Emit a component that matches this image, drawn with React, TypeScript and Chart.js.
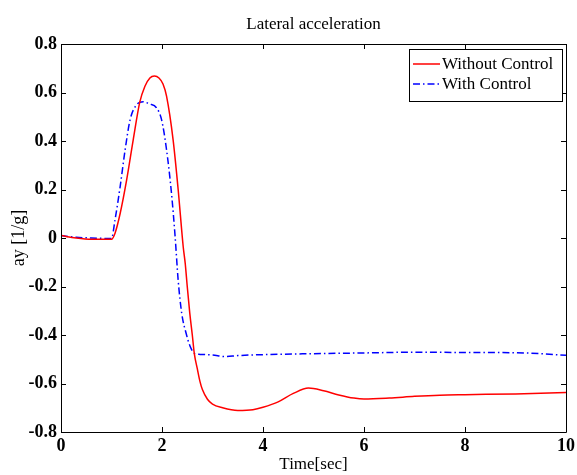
import React, { useEffect, useRef } from 'react';
import { Chart, registerables } from 'chart.js';

Chart.register(...registerables);

// ---- data ----
const xTicks = [0, 2, 4, 6, 8, 10];
const yTicks = [-0.8, -0.6, -0.4, -0.2, 0, 0.2, 0.4, 0.6, 0.8];

const timeWithout = [0, 0.3, 0.6, 1.0, 1.07, 1.17, 1.3, 1.43, 1.56, 1.66, 1.76, 1.85, 1.94, 2.02, 2.09, 2.22, 2.32, 2.42, 2.46, 2.5, 2.55, 2.6, 2.64, 2.7, 2.75, 2.8, 2.9, 3.0, 3.2, 3.5, 3.8, 4.0, 4.3, 4.6, 4.9, 5.2, 5.5, 5.8, 6.0, 6.5, 7.0, 7.5, 8.0, 9.0, 10.0];
const ayWithout = [0.01, 0.0, -0.005, -0.005, 0.02, 0.1, 0.24, 0.405, 0.56, 0.625, 0.66, 0.668, 0.66, 0.635, 0.585, 0.405, 0.2, -0.036, -0.105, -0.2, -0.31, -0.4, -0.477, -0.54, -0.59, -0.625, -0.665, -0.685, -0.7, -0.711, -0.708, -0.698, -0.676, -0.641, -0.619, -0.63, -0.647, -0.66, -0.664, -0.66, -0.653, -0.648, -0.646, -0.643, -0.637];

const timeWith = [0, 0.3, 0.6, 1.0, 1.07, 1.17, 1.27, 1.37, 1.5, 1.63, 1.75, 1.89, 1.99, 2.09, 2.19, 2.26, 2.32, 2.39, 2.48, 2.55, 2.65, 2.75, 3.0, 3.25, 3.5, 4.0, 5.0, 6.0, 7.0, 8.0, 9.0, 9.5, 10.0];
const ayWith = [0.01, 0.003, 0.0, -0.002, 0.075, 0.21, 0.364, 0.489, 0.55, 0.562, 0.553, 0.537, 0.489, 0.364, 0.18, 0.005, -0.174, -0.31, -0.395, -0.443, -0.477, -0.48, -0.482, -0.489, -0.485, -0.481, -0.477, -0.474, -0.471, -0.472, -0.473, -0.477, -0.484];

const seriesLabels = ['Without Control', 'With Control'];
const titleText = 'Lateral acceleration';
const xTitle = 'Time[sec]';
const yTitle = 'ay [1/g]';

const FONT = "'Liberation Serif', 'Times New Roman', serif";

const framePlugin = {
  id: 'matlabFrame',
  afterDatasetsDraw(chart: any) {
    const { ctx, chartArea } = chart;
    const { left, right, top, bottom } = chartArea;
    const xs = chart.scales.x;
    const ys = chart.scales.y;
    ctx.save();
    ctx.strokeStyle = '#000';
    ctx.lineWidth = 1;
    ctx.beginPath();
    ctx.rect(Math.round(left) + 0.5, Math.round(top) + 0.5, Math.round(right - left), Math.round(bottom - top));
    ctx.stroke();
    const tl = 5;
    ctx.beginPath();
    xTicks.forEach((v) => {
      const px = Math.round(xs.getPixelForValue(v)) + 0.5;
      ctx.moveTo(px, bottom);
      ctx.lineTo(px, bottom - tl);
      ctx.moveTo(px, top);
      ctx.lineTo(px, top + tl);
    });
    yTicks.forEach((v) => {
      const py = Math.round(ys.getPixelForValue(v)) + 0.5;
      ctx.moveTo(left, py);
      ctx.lineTo(left + tl, py);
      ctx.moveTo(right, py);
      ctx.lineTo(right - tl, py);
    });
    ctx.stroke();

    // legend
    const bx = 409.5, by = 49.5, bw = 153, bh = 52;
    ctx.fillStyle = '#fff';
    ctx.fillRect(bx, by, bw, bh);
    ctx.strokeStyle = '#000';
    ctx.strokeRect(bx, by, bw, bh);
    const rows = [64, 84];
    chart.data.datasets.forEach((ds: any, i: number) => {
      const y = rows[i];
      ctx.save();
      ctx.strokeStyle = ds.borderColor;
      ctx.lineWidth = 1.5;
      ctx.setLineDash(ds.borderDash || []);
      ctx.beginPath();
      ctx.moveTo(413, y);
      ctx.lineTo(440, y);
      ctx.stroke();
      ctx.restore();
      ctx.fillStyle = '#000';
      ctx.font = `17px ${FONT}`;
      ctx.textBaseline = 'middle';
      ctx.textAlign = 'left';
      ctx.fillText(ds.label, 442, y + 1);
    });
    ctx.restore();
  },
};

export default function App() {
  const ref = useRef<HTMLCanvasElement | null>(null);
  useEffect(() => {
    if (!ref.current) return;
    const chart = new Chart(ref.current, {
      type: 'line',
      data: {
        datasets: [
          {
            label: seriesLabels[0],
            data: timeWithout.map((t, i) => ({ x: t, y: ayWithout[i] })),
            borderColor: '#ff0000',
            borderWidth: 1.5,
            pointRadius: 0,
            cubicInterpolationMode: 'monotone',
            fill: false,
          },
          {
            label: seriesLabels[1],
            data: timeWith.map((t, i) => ({ x: t, y: ayWith[i] })),
            borderColor: '#0000ff',
            borderWidth: 1.5,
            borderDash: [7, 3, 1.5, 3],
            pointRadius: 0,
            cubicInterpolationMode: 'monotone',
            fill: false,
          },
        ],
      },
      options: {
        animation: false,
        responsive: false,
        devicePixelRatio: 1,
        layout: { padding: { top: 0, right: 11, bottom: 0, left: 0 } },
        plugins: {
          legend: { display: false },
          tooltip: { enabled: false },
          title: {
            display: true,
            text: titleText,
            fullSize: false,
            color: '#000',
            font: { family: FONT, size: 17, weight: 'normal' },
            padding: { top: 14, bottom: 9.6 },
          },
        },
        scales: {
          x: {
            type: 'linear',
            min: 0,
            max: 10,
            afterFit: (s: any) => { s.height = 43; s.paddingLeft = 0; s.paddingRight = 0; },
            afterBuildTicks: (s: any) => { s.ticks = xTicks.map((v) => ({ value: v })); },
            grid: { display: false, drawTicks: false },
            border: { display: false },
            ticks: {
              color: '#000',
              padding: 4,
              maxRotation: 0,
              font: { family: FONT, size: 18, weight: 'bold' },
            },
            title: {
              display: true,
              text: xTitle,
              color: '#000',
              font: { family: FONT, size: 17, weight: 'normal' },
              padding: { top: 0, bottom: 0 },
            },
          },
          y: {
            type: 'linear',
            min: -0.8,
            max: 0.8,
            afterFit: (s: any) => { s.width = 61; },
            afterBuildTicks: (s: any) => { s.ticks = yTicks.map((v) => ({ value: v })); },
            grid: { display: false, drawTicks: false },
            border: { display: false },
            ticks: {
              color: '#000',
              padding: 4,
              font: { family: FONT, size: 18, weight: 'bold' },
              callback: (v: any) => {
                const n = Math.round(Number(v) * 10) / 10;
                return n === 0 ? '0' : n.toFixed(1);
              },
            },
            title: {
              display: true,
              text: yTitle,
              color: '#000',
              font: { family: FONT, size: 18, weight: 'normal' },
              padding: { top: 8, bottom: 0 },
            },
          },
        },
      } as any,
      plugins: [framePlugin],
    });
    return () => chart.destroy();
  }, []);
  return (
    <div style={{ position: 'fixed', left: 0, top: 0, width: 577, height: 475, background: '#fff' }}>
      <canvas ref={ref} width={577} height={475} style={{ width: 577, height: 475 }} />
    </div>
  );
}
